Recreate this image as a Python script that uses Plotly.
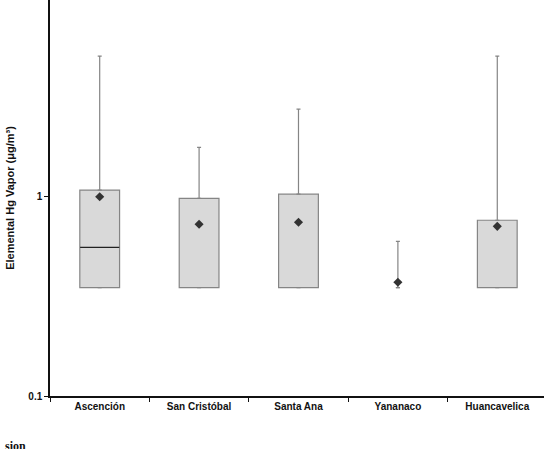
import plotly.graph_objects as go

sites = ["Ascención", "San Cristóbal", "Santa Ana", "Yananaco", "Huancavelica"]
q1 = [0.35, 0.35, 0.35, 0.35, 0.35]
median = [0.557, 0.35, 0.35, 0.35, 0.35]
q3 = [1.08, 0.98, 1.03, 0.35, 0.762]
lower = [0.35, 0.35, 0.35, 0.35, 0.35]
upper = [5.08, 1.77, 2.75, 0.597, 5.08]
means = [1.0, 0.727, 0.745, 0.372, 0.71]
y_ticks = [0.1, 1, 10]
y_ticklabels = ["0.1", "1", "10"]

GRAY = "#858585"
fig = go.Figure()
# boxes
fig.add_trace(go.Bar(
    x=sites, base=q1, y=[b - a for a, b in zip(q1, q3)], width=0.4,
    marker=dict(color="#d9d9d9",
                line=dict(color=GRAY, width=[1.2 if b > a else 0 for a, b in zip(q1, q3)])),
    showlegend=False, hoverinfo="skip",
))
# upper whiskers
fig.add_trace(go.Scatter(
    x=sites, y=q3, mode="markers", marker=dict(size=0.1, color="rgba(0,0,0,0)"),
    error_y=dict(type="data", array=[u - t for u, t in zip(upper, q3)],
                 arrayminus=[0] * len(sites),
                 color=GRAY, thickness=1.2, width=2),
    showlegend=False, hoverinfo="skip",
))
# lower whiskers
fig.add_trace(go.Scatter(
    x=sites, y=q1, mode="markers", marker=dict(size=0.1, color="rgba(0,0,0,0)"),
    error_y=dict(type="data", array=[0] * len(sites),
                 arrayminus=[a - l for a, l in zip(q1, lower)],
                 color=GRAY, thickness=1.2, width=2),
    showlegend=False, hoverinfo="skip",
))
# median lines (only where distinct from box edge)
med_x = [s for s, m, a in zip(sites, median, q1) if m > a]
med_y = [m for m, a in zip(median, q1) if m > a]
fig.add_trace(go.Scatter(
    x=med_x, y=med_y, mode="markers",
    marker=dict(symbol="line-ew", size=28, line=dict(color="#222222", width=1.2)),
    showlegend=False, hoverinfo="skip",
))
# means
fig.add_trace(go.Scatter(
    x=sites, y=means, mode="markers",
    marker=dict(symbol="diamond", size=7, color="#333333"),
    showlegend=False, hoverinfo="skip",
))

font = "Liberation Sans, Arial, sans-serif"
fig.update_layout(
    width=544, height=449,
    margin=dict(l=50, r=0, t=0, b=53),
    paper_bgcolor="white", plot_bgcolor="white",
    font=dict(family=font, size=10, color="#111111"),
    xaxis=dict(
        type="category", range=[-0.5, 4.47],
        showline=True, linecolor="#111111", linewidth=1.5,
        ticks="outside", tickson="boundaries", ticklen=4, tickcolor="#111111",
        tickfont=dict(family=font, size=10, color="#111111", weight="bold"),
        showgrid=False, zeroline=False,
    ),
    yaxis=dict(
        type="log", range=[-1, 0.987],
        tickvals=y_ticks, ticktext=y_ticklabels,
        showline=True, linecolor="#111111", linewidth=1.5,
        ticks="outside", ticklen=4, tickcolor="#111111",
        tickfont=dict(family=font, size=10, color="#111111", weight="bold"),
        showgrid=False, zeroline=False,
        title=dict(text="Elemental Hg Vapor (μg/m³)", standoff=11,
                   font=dict(family=font, size=11, color="#111111", weight="bold")),
    ),
    annotations=[
        dict(text="10", xref="paper", yref="paper", x=0, y=1, xanchor="right",
             yanchor="middle", xshift=-8, yshift=4, showarrow=False,
             font=dict(family=font, size=10, color="#111111", weight="bold")),
        dict(text="sion", xref="paper", yref="paper", x=0, y=0, xanchor="left",
             yanchor="top", xshift=-47, yshift=-41, showarrow=False,
             font=dict(family="Liberation Serif, serif", size=12, color="#111111", weight="bold")),
    ],
)

fig.write_html("out.html")
